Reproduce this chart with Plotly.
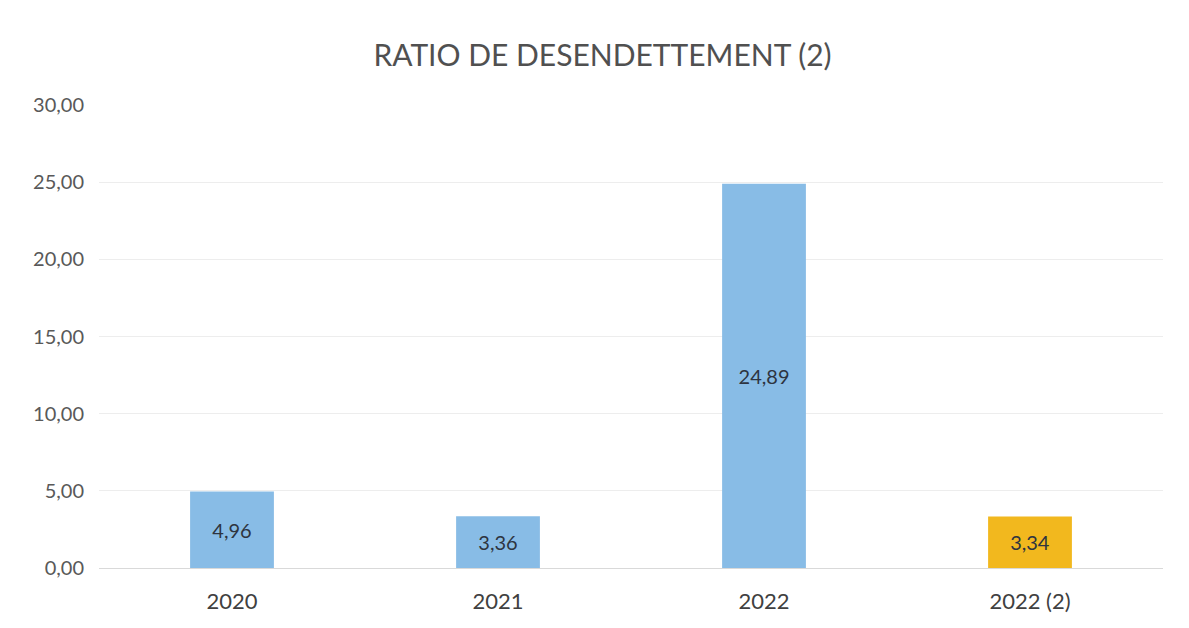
import plotly.graph_objects as go

categories = ["2020", "2021", "2022", "2022 (2)"]
values = [4.96, 3.36, 24.89, 3.34]
bar_colors = ["#88BCE6", "#88BCE6", "#88BCE6", "#F2B81E"]
y_ticks = [0, 5, 10, 15, 20, 25, 30]

fig = go.Figure()
fig.add_trace(go.Bar(
    x=categories, y=values,
    marker=dict(color=bar_colors, line=dict(width=0)),
    width=0.315,
    text=[f"{v:.2f}".replace(".", ",") for v in values],
    textposition="inside", insidetextanchor="middle",
    textfont=dict(family="Lato, Open Sans, sans-serif", size=20, color="#2E3440"),
))

fig.update_layout(
    width=1189, height=628,
    paper_bgcolor="white", plot_bgcolor="white",
    margin=dict(l=91, r=34, t=97, b=68),
    separators=", ",
    title=dict(text="RATIO DE DESENDETTEMENT (2)", x=0.5, xanchor="center", y=0.925, yanchor="middle",
               font=dict(family="Lato, Open Sans, sans-serif", size=30, color="#505050")),
    font=dict(family="Lato, Open Sans, sans-serif", color="#595959"),
    showlegend=False,
)
fig.update_xaxes(showline=True, linecolor="#D9D9D9", linewidth=1, ticks="",
                 tickfont=dict(size=22, color="#404040"), ticklabelstandoff=14)
fig.update_yaxes(range=[0, 30], tickvals=y_ticks, tickformat=".2f",
                 showgrid=True, gridcolor="#EDEDED", gridwidth=1, zeroline=False,
                 tickfont=dict(size=20, color="#595959"), ticklabelstandoff=14)

fig.write_html("out.html")
